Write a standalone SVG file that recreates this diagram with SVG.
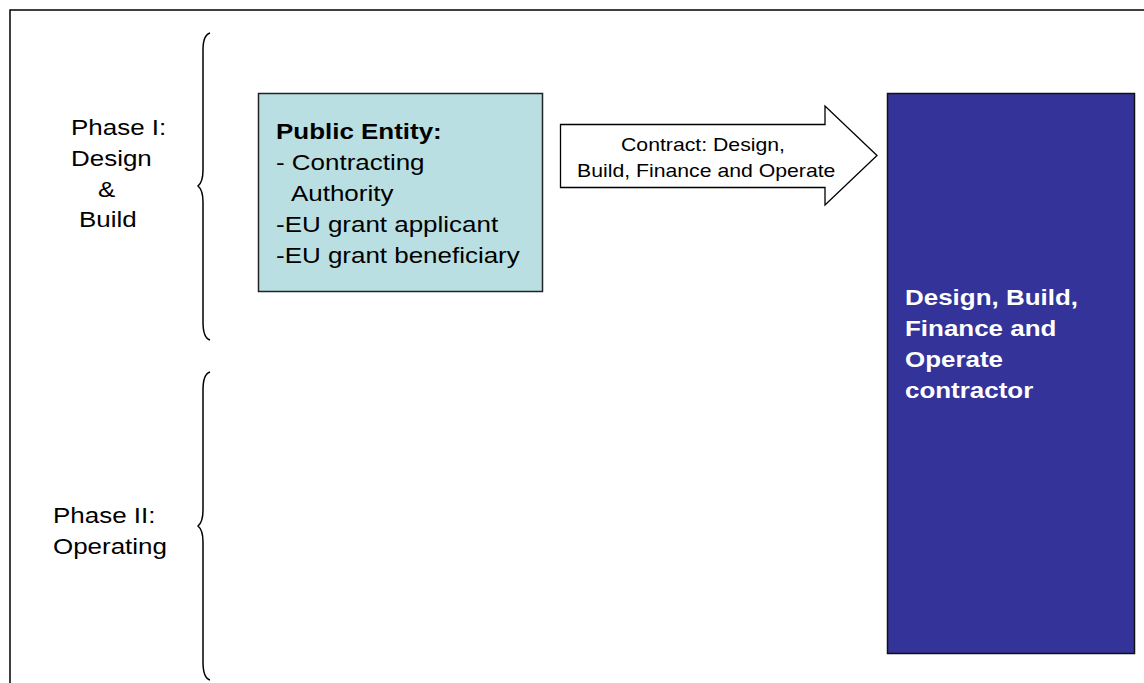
<svg xmlns="http://www.w3.org/2000/svg" width="1144" height="683" viewBox="0 0 1144 683">
  <style>
    text { font-family: "Liberation Sans", Arial, sans-serif; fill: #000; }
    .lbl { font-size: 22px; }
    .small { font-size: 18px; }
    .bold { font-weight: bold; }
    .white { fill: #fff; }
    .brace { fill: none; stroke: #000; stroke-width: 1.5; }
  </style>
  <rect width="1144" height="683" fill="#fff"/>
  <!-- outer frame -->
  <rect x="10" y="10" width="1160" height="700" fill="none" stroke="#000" stroke-width="1.5"/>

  <!-- text is drawn slightly wide: each line is scaled 1.18 horizontally from its start point -->
  <g id="phase1">
    <path class="brace" d="M210,33 Q203,35 203,50 L203,170 Q203,182 198,186 Q203,190 203,202 L203,322 Q203,338 210,340"/>
    <text class="lbl" transform="translate(71,135) scale(1.18,1)">Phase I:</text>
    <text class="lbl" transform="translate(71,166) scale(1.18,1)">Design</text>
    <text class="lbl" transform="translate(98,197) scale(1.18,1)">&amp;</text>
    <text class="lbl" transform="translate(79,227) scale(1.18,1)">Build</text>
  </g>

  <g id="phase2">
    <path class="brace" d="M210,372 Q203,374 203,390 L203,510 Q203,522 198,526 Q203,530 203,542 L203,662 Q203,678 210,680"/>
    <text class="lbl" transform="translate(53,523) scale(1.18,1)">Phase II:</text>
    <text class="lbl" transform="translate(53,554) scale(1.18,1)">Operating</text>
  </g>

  <g id="public-entity">
    <rect x="258.5" y="93.5" width="284" height="198" fill="#B9DFE2" stroke="#222" stroke-width="1.5"/>
    <text class="lbl bold" transform="translate(276,139) scale(1.18,1)">Public Entity:</text>
    <text class="lbl" transform="translate(276,170) scale(1.18,1)">- Contracting</text>
    <text class="lbl" transform="translate(291,201) scale(1.18,1)">Authority</text>
    <text class="lbl" transform="translate(276,232) scale(1.18,1)">-EU grant applicant</text>
    <text class="lbl" transform="translate(276,263) scale(1.18,1)">-EU grant beneficiary</text>
  </g>

  <g id="contractor">
    <rect x="887.5" y="93.5" width="247" height="560" fill="#333399" stroke="#111" stroke-width="1.5"/>
    <text class="lbl bold white" transform="translate(905,305) scale(1.18,1)">Design, Build,</text>
    <text class="lbl bold white" transform="translate(905,336) scale(1.18,1)">Finance and</text>
    <text class="lbl bold white" transform="translate(905,367) scale(1.18,1)">Operate</text>
    <text class="lbl bold white" transform="translate(905,398) scale(1.18,1)">contractor</text>
  </g>

  <g id="connectors">
    <path d="M560.5,124.5 L825,124.5 L825,106 L877,155.5 L825,205 L825,187.5 L560.5,187.5 Z" fill="#fff" stroke="#000" stroke-width="1.3"/>
    <text class="small" transform="translate(621,151) scale(1.18,1)">Contract: Design,</text>
    <text class="small" transform="translate(577,177) scale(1.18,1)">Build, Finance and Operate</text>
  </g>
</svg>
